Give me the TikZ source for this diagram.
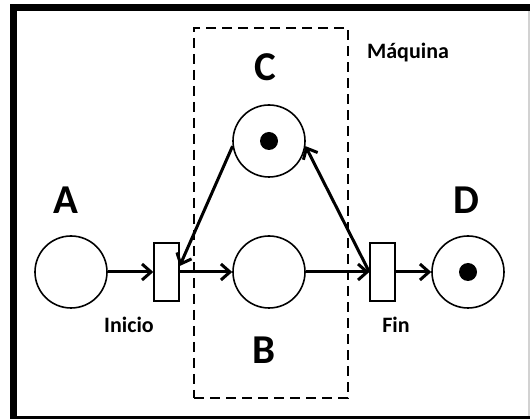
\documentclass[tikz,border=0pt]{standalone}
\usepackage{fontspec}
\setmainfont{Carlito}
\usetikzlibrary{arrows.meta}
\begin{document}
\begin{tikzpicture}[x=1pt,y=-1pt,
 place/.style={circle,draw,line width=1.6pt,minimum size=72pt,inner sep=0pt},
 trans/.style={rectangle,draw,line width=1.4pt,minimum width=25pt,minimum height=58pt,inner sep=0pt,fill=white},
 token/.style={circle,fill=black,minimum size=18pt,inner sep=0pt},
 arc/.style={line width=3pt,-{Straight Barb[length=9pt,width=16pt,line width=3pt]}},
 biglbl/.style={font=\fontsize{41}{45}\selectfont\bfseries,inner sep=0pt},
 lbl/.style={font=\fontsize{22}{26}\selectfont\bfseries,inner sep=0pt},
 dashbox/.style={draw,line width=2.2pt,dash pattern=on 10pt off 6pt,minimum width=154pt,minimum height=370pt,inner sep=0pt}]
\useasboundingbox (0,0) rectangle (530,419);
\fill[white] (0,0) rectangle (530,419);
\fill[black] (10,4) rectangle (530,419);
\fill[white] (17,11) rectangle (528,416);
\fill[gray!35] (528,11) rectangle (530,416);

\node (maq) [dashbox] at (271,213) {};
\node (maqlbl) [lbl] at (408,53) {Máquina};

\node (A) [place] at (71,272) {};
\node (B) [place] at (269,272) {};
\node (C) [place] at (269,141) {};
\node (D) [place] at (468,272) {};
\node (tc) [token] at (C) {};
\node (td) [token] at (D) {};
\node (Inicio) [trans] at (166.5,272) {};
\node (Fin) [trans] at (382.5,272) {};

\node (Alb) [biglbl] at (66,200) {A};
\node (Blb) [biglbl] at (264,350) {B};
\node (Clb) [biglbl] at (265,67) {C};
\node (Dlb) [biglbl] at (466,200) {D};
\node (Ilb) [lbl] at (129,325) {Inicio};
\node (Flb) [lbl] at (396,325) {Fin};

\draw[arc] (A) -- (Inicio);
\draw[arc] (Inicio) -- (B);
\draw[arc] (B) -- (Fin);
\draw[arc] (Fin) -- (D);
\draw[arc] (C.188) -- ([yshift=6pt]Inicio.east);
\draw[arc] (Fin.west) -- (C.-8);
\end{tikzpicture}
\end{document}
